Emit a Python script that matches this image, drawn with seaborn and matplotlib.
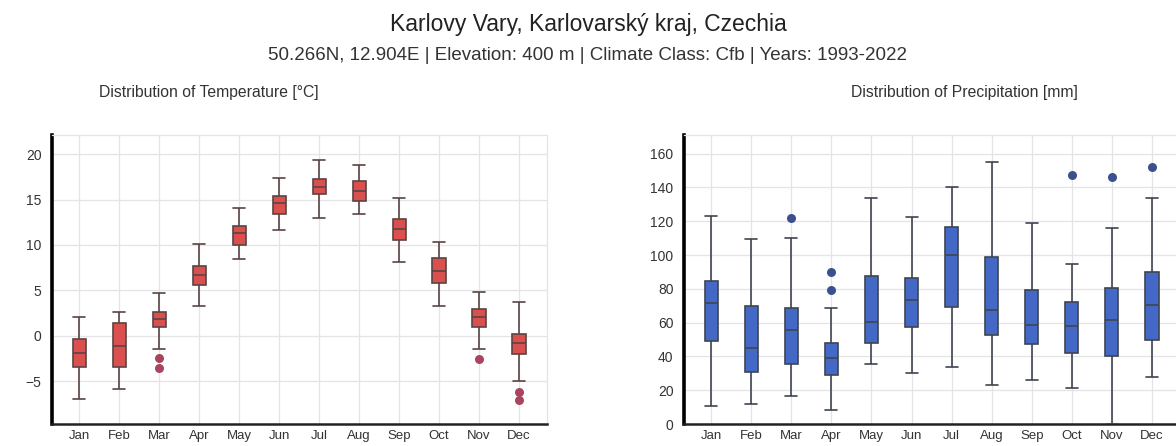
import numpy as np
import pandas as pd
import matplotlib.pyplot as plt
import seaborn as sns

# 月份
months = ['Jan', 'Feb', 'Mar', 'Apr', 'May', 'Jun', 'Jul', 'Aug', 'Sep', 'Oct', 'Nov', 'Dec']

# 气温箱线图的五数概括
temp_low = [-7.0, -5.9, -1.4, 3.3, 8.5, 11.6, 13.0, 13.4, 8.1, 3.3, -1.5, -5.0]
temp_q1 = [-3.4, -3.4, 1.0, 5.6, 10.0, 13.4, 15.6, 14.8, 10.5, 5.8, 1.0, -2.0]
temp_med = [-1.9, -1.1, 1.9, 6.7, 11.3, 14.6, 16.4, 15.9, 11.8, 7.1, 2.1, -0.8]
temp_q3 = [-0.4, 1.4, 2.6, 7.7, 12.1, 15.4, 17.3, 17.0, 12.9, 8.6, 2.9, 0.2]
temp_high = [2.1, 2.6, 4.7, 10.1, 14.1, 17.4, 19.4, 18.8, 15.2, 10.3, 4.8, 3.7]
temp_out_month = ['Mar', 'Mar', 'Nov', 'Dec', 'Dec']
temp_out_val = [-2.4, -3.5, -2.6, -6.2, -7.1]

# 降水箱线图的五数概括
prec_low = [10.8, 11.8, 16.7, 8.5, 35.4, 30.1, 34.0, 23.2, 25.8, 21.3, 0.0, 28.1]
prec_q1 = [49.4, 30.5, 35.4, 29.1, 48.2, 57.3, 69.5, 52.4, 47.4, 42.3, 40.0, 49.8]
prec_med = [71.8, 44.9, 55.7, 39.0, 60.6, 73.4, 100.0, 67.5, 58.6, 57.7, 61.6, 70.5]
prec_q3 = [84.6, 69.9, 68.9, 47.8, 87.8, 86.2, 116.3, 99.0, 79.3, 72.4, 80.3, 89.7]
prec_high = [123.2, 109.4, 110.2, 68.5, 134.0, 122.2, 140.3, 155.1, 119.1, 94.7, 116.1, 134.0]
prec_out_month = ['Mar', 'Apr', 'Apr', 'Oct', 'Nov', 'Dec']
prec_out_val = [121.6, 89.7, 79.5, 147.6, 146.2, 152.1]


def five_num_frame(low, q1, med, q3, high):
    rows = []
    for i, m in enumerate(months):
        for v in (low[i], q1[i], med[i], q3[i], high[i]):
            rows.append({'month': m, 'value': v})
    return pd.DataFrame(rows)


temp_df = five_num_frame(temp_low, temp_q1, temp_med, temp_q3, temp_high)
prec_df = five_num_frame(prec_low, prec_q1, prec_med, prec_q3, prec_high)
temp_out = pd.DataFrame({'month': temp_out_month, 'value': temp_out_val})
prec_out = pd.DataFrame({'month': prec_out_month, 'value': prec_out_val})

sns.set_style('white')
plt.rcParams['font.family'] = ['Liberation Sans', 'DejaVu Sans']

fig = plt.figure(figsize=(11.76, 4.46), dpi=100)
ax1 = fig.add_axes([0.0442, 0.0493, 0.421, 0.648])
ax2 = fig.add_axes([0.5816, 0.0493, 0.4218, 0.648])


def draw(ax, df, out, fill, edge, out_color, ylim, yticks):
    sns.boxplot(data=df, x='month', y='value', order=months, ax=ax,
                whis=(0, 100), showfliers=False, width=0.33,
                color=fill, linecolor=edge, linewidth=1.2, saturation=1,
                capwidths=0.3, zorder=3)
    sns.stripplot(data=out, x='month', y='value', order=months, ax=ax,
                  jitter=False, color=out_color, size=6.5, linewidth=0, zorder=4)
    ax.set_xlim(-0.68, 11.7)
    ax.set_ylim(*ylim)
    ax.set_yticks(yticks)
    ax.set_xlabel('')
    ax.set_ylabel('')
    ax.grid(True, color='#e4e4e4', linewidth=0.9, zorder=0)
    ax.set_axisbelow(True)
    for s in ('top', 'right'):
        ax.spines[s].set_color('#e4e4e4')
        ax.spines[s].set_linewidth(0.9)
    ax.spines['left'].set_color('black')
    ax.spines['left'].set_linewidth(2.6)
    ax.spines['bottom'].set_color('#222222')
    ax.spines['bottom'].set_linewidth(1.8)
    ax.tick_params(axis='both', which='both', direction='out', length=4,
                   width=1, color='#444444', labelcolor='#333333', labelsize=10)
    ax.tick_params(axis='x', pad=1, length=3, labelsize=9.5)


draw(ax1, temp_df, temp_out, '#d9504e', '#5a4444', '#a8455e',
     (-9.7, 22.1), [-5, 0, 5, 10, 15, 20])
draw(ax2, prec_df, prec_out, '#4468c6', '#3f4450', '#3e4f8f',
     (0, 171), list(range(0, 161, 20)))

fig.text(0.5, 1 - 24 / 446, 'Karlovy Vary, Karlovarský kraj, Czechia',
         ha='center', va='center', fontsize=16.5, color='#222222')
fig.text(0.5, 1 - 55 / 446,
         '50.266N, 12.904E | Elevation: 400 m | Climate Class: Cfb | Years: 1993-2022',
         ha='center', va='center', fontsize=13.5, color='#333333')
fig.text(209 / 1176, 1 - 92 / 446, 'Distribution of Temperature [°C]',
         ha='center', va='center', fontsize=11.3, color='#333333')
fig.text(964 / 1176, 1 - 92 / 446, 'Distribution of Precipitation [mm]',
         ha='center', va='center', fontsize=11.3, color='#333333')

fig.savefig('out.png', dpi=100)
